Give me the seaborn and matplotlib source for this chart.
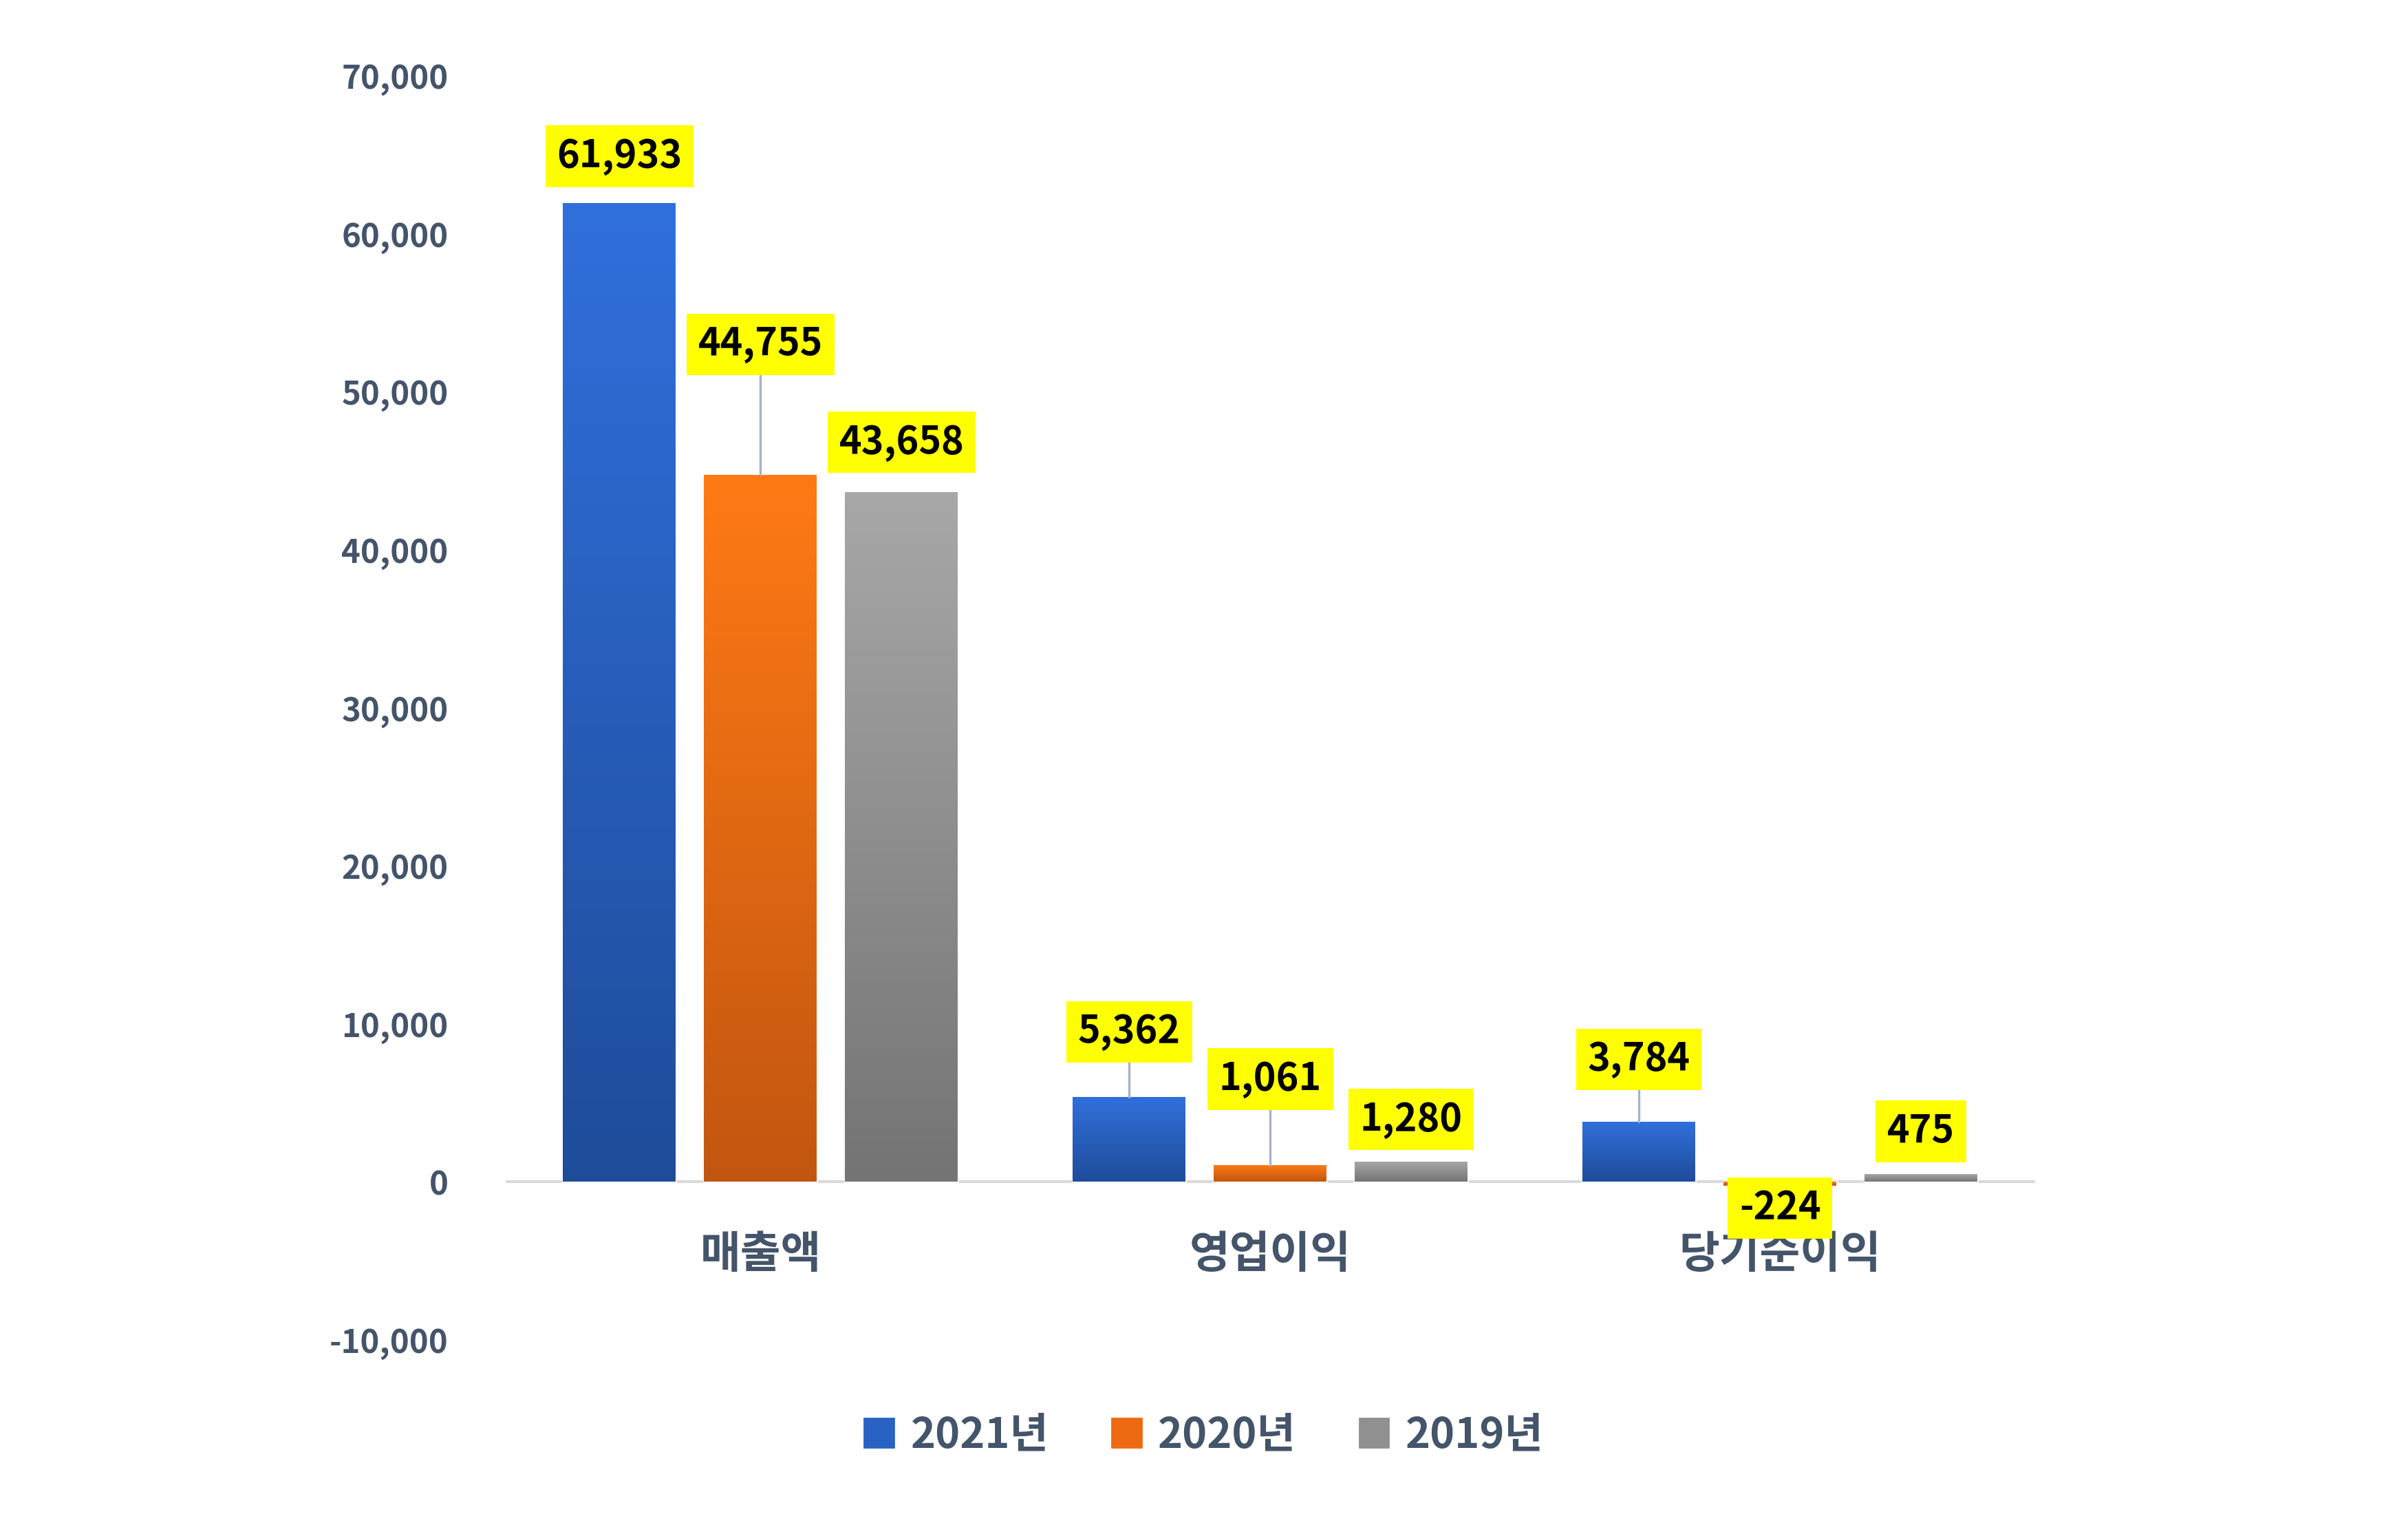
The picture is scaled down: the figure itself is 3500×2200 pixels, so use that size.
import matplotlib
matplotlib.use("Agg")
import matplotlib.pyplot as plt
import matplotlib.colors as mcolors
import numpy as np
import pandas as pd
import seaborn as sns

categories = ["매출액", "영업이익", "당기순이익"]
years = ["2021년", "2020년", "2019년"]
values_2021 = [61933, 5362, 3784]
values_2020 = [44755, 1061, -224]
values_2019 = [43658, 1280, 475]

sns.set_theme(style="white")
plt.rcParams['font.family'] = ['Noto Sans CJK KR', 'DejaVu Sans']

df = pd.DataFrame({
    "category": categories * 3,
    "year": [y for y in years for _ in categories],
    "value": values_2021 + values_2020 + values_2019,
})

# gradient (top, bottom) per series
grads = {
    "2021년": ("#3070DC", "#1F4C9A"),
    "2020년": ("#FF7A15", "#C25610"),
    "2019년": ("#A8A8A8", "#747474"),
}
mid = {"2021년": "#2A62C4", "2020년": "#EE6A12", "2019년": "#909090"}

fig = plt.figure(figsize=(17.5, 11), dpi=200)
ax = fig.add_axes([0.21, 0.115, 0.635, 0.835])
sns.barplot(data=df, x="category", y="value", hue="year", hue_order=years,
            order=categories, palette=mid, width=0.83, gap=0.2, ax=ax,
            legend=False, zorder=2)

ax.set_xlim(-0.5, 2.5)
ax.set_ylim(-10000, 70000)
ax.set_yticks(range(-10000, 70001, 10000))
ax.set_yticklabels([f"{v:,}" for v in range(-10000, 70001, 10000)],
                   fontsize=17, fontweight="bold", color="#44546A")
ax.tick_params(axis="y", length=0, pad=30)
ax.set_xticks([])
ax.set_xlabel("")
ax.set_ylabel("")
for s in ax.spines.values():
    s.set_visible(False)
ax.axhline(0, color="#D9D9D9", lw=1.5, zorder=1)

# gradient fill of bars
bars = [p for p in ax.patches if p.get_height() != 0 or True][:9]
for i, p in enumerate(bars):
    year = years[i // 3]
    top, bot = grads[year]
    cmap = mcolors.LinearSegmentedColormap.from_list("g", [bot, top])
    x0, y0 = p.get_x(), p.get_y()
    w, h = p.get_width(), p.get_height()
    ylo, yhi = min(y0, y0 + h), max(y0, y0 + h)
    grad = np.linspace(0, 1, 256).reshape(-1, 1)
    im = ax.imshow(grad, cmap=cmap, origin="lower", aspect="auto",
                   extent=[x0, x0 + w, ylo, yhi], zorder=3)
    im.set_clip_path(p)

ax.set_xlim(-0.5, 2.5)
ax.set_ylim(-10000, 70000)

# data labels (label y positions in data units)
label_y = [64900, 9500, 7750, 53000, 6500, -1650, 46800, 3950, 3200]
leader = [False, True, True, True, True, False, False, False, False]
for i, p in enumerate(bars):
    v = df["value"].iloc[i]
    xc = p.get_x() + p.get_width() / 2
    if leader[i]:
        ax.plot([xc, xc], [max(v, 0), label_y[i]], color="#A6B4C8", lw=1.2, zorder=4)
    ax.text(xc, label_y[i], f"{v:,}", ha="center", va="center", fontsize=20,
            fontweight="bold", color="black", zorder=6,
            bbox=dict(boxstyle="square,pad=0.3", fc="#FFFF00", ec="none"))

for j, c in enumerate(categories):
    ax.text(j, -4600, c, ha="center", va="center", fontsize=23,
            fontweight="bold", color="#44546A")

handles = [plt.Rectangle((0, 0), 1, 1, color=mid[y]) for y in years]
fig.legend(handles, years, loc="center", bbox_to_anchor=(0.5, 0.052), ncol=3,
           frameon=False, prop={"size": 22, "weight": "bold"},
           labelcolor="#44546A", handlelength=0.7, handleheight=0.7,
           columnspacing=1.5, handletextpad=0.4)

fig.savefig("out.png", dpi=200)
